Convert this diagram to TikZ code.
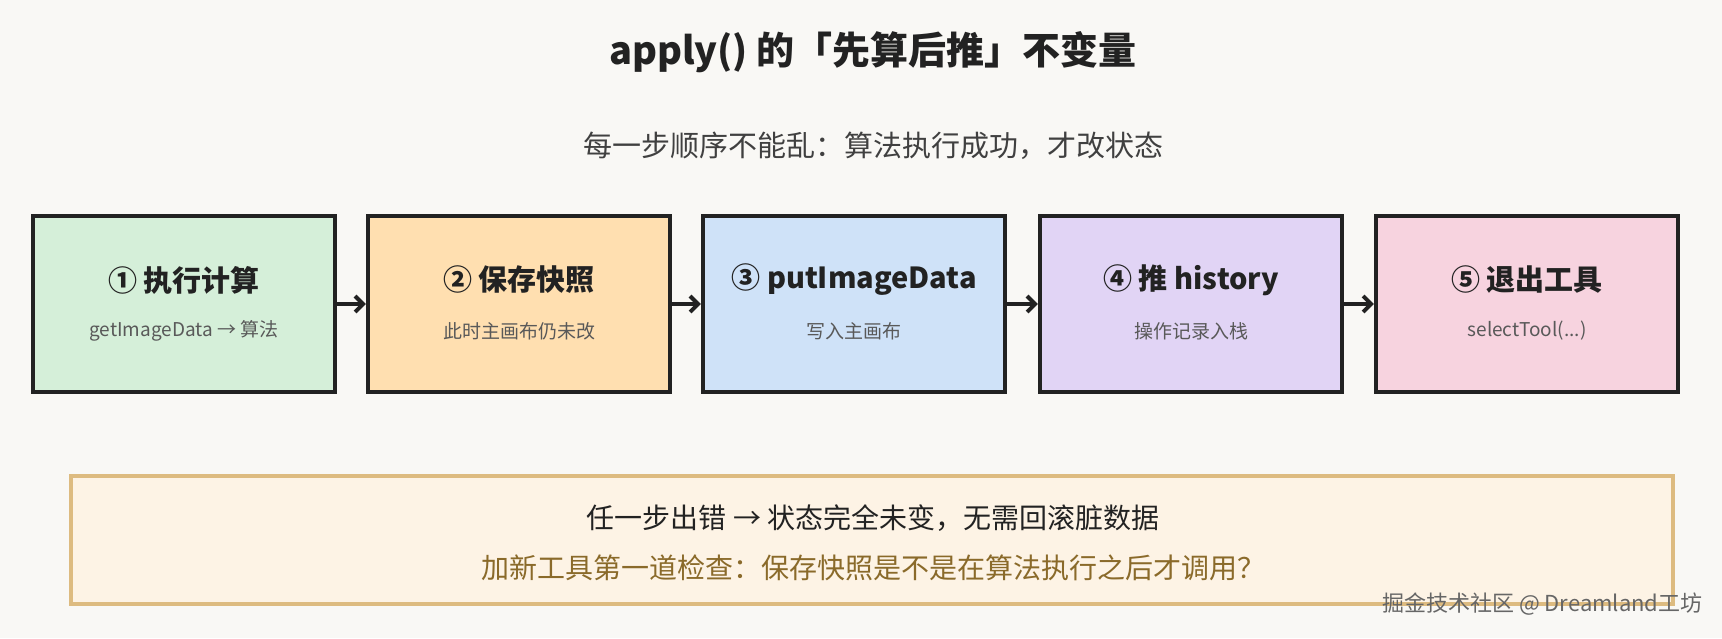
\documentclass[tikz,border=0pt]{standalone}
\usepackage{fontspec}
\setmainfont{Noto Sans CJK SC}
\usetikzlibrary{arrows.meta, positioning}
\definecolor{paper}{HTML}{F9F8F5}
\definecolor{stepgreen}{HTML}{D5EFD9}
\definecolor{steporange}{HTML}{FFDFB0}
\definecolor{stepblue}{HTML}{CFE2F8}
\definecolor{steppurple}{HTML}{E1D4F5}
\definecolor{steppink}{HTML}{F7D3DF}
\definecolor{notefill}{HTML}{FDF3E5}
\definecolor{noteline}{HTML}{DDBB80}
\definecolor{notetext}{HTML}{8A6A2A}
\definecolor{ink}{HTML}{222222}

\begin{document}
\begin{tikzpicture}[x=1pt, y=-1pt,
    stepbox/.style={draw=ink, line width=4.2pt, minimum width=302pt,
                    minimum height=176pt, inner sep=0pt},
    steptitle/.style={font=\fontsize{29}{34}\selectfont\bfseries, text=ink},
    stepnote/.style={font=\fontsize{19}{23}\selectfont, text=black!65},
    arr/.style={-{Straight Barb[length=8pt, width=16pt]}, line width=4pt, ink}
  ]
    \useasboundingbox (0,0) rectangle (1722,638);
    \fill[paper] (0,0) rectangle (1722,638);

    % heading
    \node[font=\fontsize{38}{44}\selectfont\bfseries, text=ink] (title) at (873,52)
      {apply() 的「先算后推」不变量};
    \node[font=\fontsize{29}{34}\selectfont, text=black!75] (subtitle) at (873,146)
      {每一步顺序不能乱：算法执行成功，才改状态};

    % the five steps
    \node[stepbox, fill=stepgreen] (calc) at (184,304) {};
    \node[steptitle] (calctitle) at (184,280) {① 执行计算};
    \node[stepnote] (calcnote) at (184,331) {getImageData → 算法};

    \node[stepbox, fill=steporange] (snap) at (519,304) {};
    \node[steptitle] (snaptitle) at (519,280) {② 保存快照};
    \node[stepnote] (snapnote) at (519,331) {此时主画布仍未改};

    \node[stepbox, fill=stepblue] (put) at (854,304) {};
    \node[steptitle] (puttitle) at (854,280) {③ putImageData};
    \node[stepnote] (putnote) at (854,331) {写入主画布};

    \node[stepbox, fill=steppurple] (hist) at (1191,304) {};
    \node[steptitle] (histtitle) at (1191,280) {④ 推 history};
    \node[stepnote] (histnote) at (1191,331) {操作记录入栈};

    \node[stepbox, fill=steppink] (quit) at (1527,304) {};
    \node[steptitle] (quittitle) at (1527,280) {⑤ 退出工具};
    \node[stepnote] (quitnote) at (1527,331) {selectTool(...)};

    \foreach \a/\b in {calc/snap, snap/put, put/hist, hist/quit}
      \draw[arr] (\a) -- (\b);

    % invariant note
    \node[draw=noteline, line width=3.6pt, fill=notefill, minimum width=1602pt,
          minimum height=128pt] (note) at (872,540) {};
    \node[font=\fontsize{28}{33}\selectfont, text=ink] (noteline1) at (873,518)
      {任一步出错 → 状态完全未变，无需回滚脏数据};
    \node[font=\fontsize{28}{33}\selectfont, text=notetext] (noteline2) at (873,568)
      {加新工具第一道检查：保存快照是不是在算法执行之后才调用？};

    \node[font=\fontsize{22}{26}\selectfont, text=black!60, anchor=east] (mark)
      at (1706,604) {掘金技术社区 @ Dreamland工坊};
  \end{tikzpicture}
\end{document}
